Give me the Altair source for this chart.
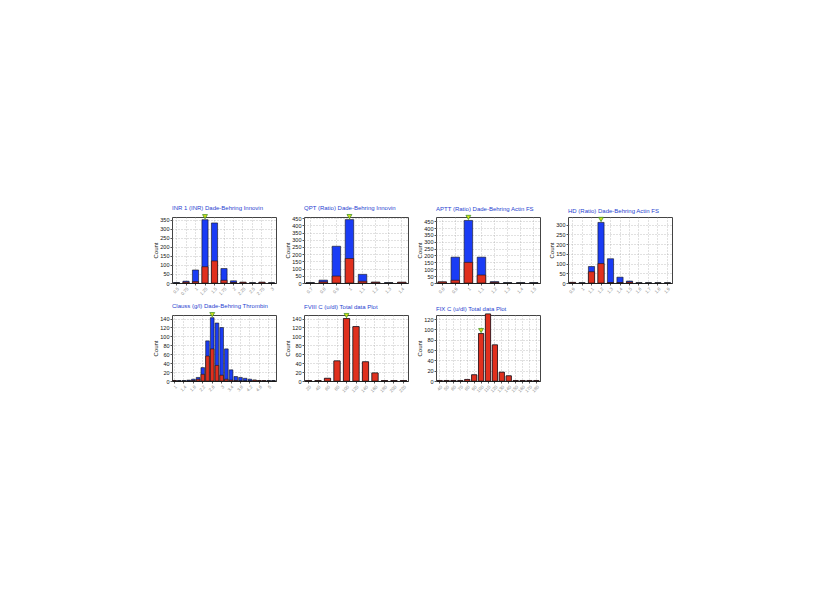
import altair as alt
import pandas as pd

BLUE = "#1a3cf5"
RED = "#e0301e"
TITLE_COLOR = "#1f3fd0"

# Panel 1
inr_title = "INR 1 (INR) Dade-Behring Innovin"
inr_labels = ["0.5", "0.75", "1", "1.25", "1.5", "1.75", "2", "2.25", "2.5", "2.75", "3"]
inr_total = [2, 10, 72, 350, 332, 80, 12, 4, 1, 4, 1]
inr_red = [0, 5, 8, 90, 122, 15, 3, 4, 0, 4, 0]
inr_ticks = [0, 50, 100, 150, 200, 250, 300, 350]
inr_ymax = 365
inr_mark = 3

# Panel 2
qpt_title = "QPT (Ratio) Dade-Behring Innovin"
qpt_labels = ["0.7", "0.8", "0.9", "1", "1.1", "1.2", "1.3", "1.4"]
qpt_total = [2, 20, 255, 440, 60, 6, 2, 5]
qpt_red = [0, 8, 48, 170, 12, 5, 0, 5]
qpt_ticks = [0, 50, 100, 150, 200, 250, 300, 350, 400, 450]
qpt_ymax = 458
qpt_mark = 3

# Panel 3
aptt_title = "APTT (Ratio) Dade-Behring Actin FS"
aptt_labels = ["0.8", "0.9", "1", "1.1", "1.2", "1.3", "1.4", "1.5"]
aptt_total = [8, 188, 455, 188, 10, 2, 2, 2]
aptt_red = [8, 20, 150, 58, 5, 0, 0, 0]
aptt_ticks = [0, 50, 100, 150, 200, 250, 300, 350, 400, 450]
aptt_ymax = 480
aptt_mark = 2

# Panel 4
hd_title = "HD (Ratio) Dade-Behring Actin FS"
hd_labels = ["0.9", "1", "1.1", "1.2", "1.3", "1.4", "1.5", "1.6", "1.7", "1.8", "1.9"]
hd_total = [3, 1, 85, 312, 125, 30, 10, 1, 1, 1, 1]
hd_red = [3, 0, 58, 100, 2, 2, 5, 0, 0, 0, 0]
hd_ticks = [0, 50, 100, 150, 200, 250, 300]
hd_ymax = 340
hd_mark = 3

# Panel 5
cl_title = "Clauss (g/l) Dade-Behring Thrombin"
cl_labels = ["1", "1.2", "1.4", "1.6", "1.8", "2", "2.2", "2.4", "2.6", "2.8", "3",
             "3.2", "3.4", "3.6", "3.8", "4", "4.2", "4.4", "4.6", "4.8", "5", "5.2"]
cl_total = [1, 1, 1, 2, 4, 8, 30, 90, 142, 130, 120, 72, 25, 10, 8, 6, 4, 2, 1, 1, 1, 1]
cl_red = [1, 0, 0, 0, 1, 4, 15, 56, 72, 35, 13, 4, 2, 1, 0, 0, 0, 2, 1, 1, 0, 0]
cl_ticks = [0, 20, 40, 60, 80, 100, 120, 140]
cl_ymax = 148
cl_mark = 8

# Panel 6
f8_title = "FVIII C (u/dl) Total data Plot"
f8_labels = ["20", "40", "60", "80", "100", "120", "140", "160", "180", "200", "220"]
f8_total = [1, 1, 6, 45, 140, 122, 43, 18, 1, 1, 1]
f8_red = [1, 1, 6, 45, 140, 122, 43, 18, 1, 1, 1]
f8_ticks = [0, 20, 40, 60, 80, 100, 120, 140]
f8_ymax = 148
f8_mark = 4

# Panel 7
f9_title = "FIX C (u/dl) Total data Plot"
f9_labels = ["40", "50", "60", "70", "80", "90", "100", "110", "120", "130",
             "140", "150", "160", "170", "180"]
f9_total = [1, 1, 1, 1, 3, 12, 92, 130, 70, 17, 10, 1, 1, 1, 1]
f9_red = [1, 1, 1, 1, 3, 12, 92, 130, 70, 17, 10, 1, 1, 1, 1]
f9_ticks = [0, 20, 40, 60, 80, 100, 120]
f9_ymax = 128
f9_mark = 6

FONT = "Liberation Sans"


def panel(title, labels, total, red, ticks, ymax, mark_idx, pad_inner=0.35, label_step=1):
    df = pd.DataFrame({"cat": labels, "total": total, "red": red})
    xaxis = alt.Axis(labelAngle=315, labelFontSize=4.5, labelColor="#888", values=labels[::label_step],
                     tickSize=2, tickColor="#555", domainColor="#222", grid=True, gridDash=[1, 2],
                     gridColor="#9a9a9a", gridWidth=0.6, labelPadding=1, title=None,
                     labelOverlap=False)
    xs = alt.Scale(paddingInner=pad_inner, paddingOuter=0.15)
    x_enc = alt.X("cat:N", sort=labels, scale=xs, axis=xaxis)
    ys = alt.Scale(domain=[0, ymax], nice=False, zero=True)
    yaxis = alt.Axis(values=ticks, labelFontSize=5.5, labelColor="#111", tickSize=2, tickColor="#555",
                     grid=True, gridDash=[1, 2], gridColor="#9a9a9a", gridWidth=0.6, labelPadding=1,
                     title="Count", titleFontSize=6, titleFontWeight="normal", titleColor="#111",
                     titlePadding=2, minExtent=12, maxExtent=12, domain=False, labelOverlap=False)
    base = alt.Chart(df)
    blue = base.mark_bar(color=BLUE, stroke="#151515", strokeWidth=0.6).encode(
        x=x_enc,
        y=alt.Y("total:Q", scale=ys, axis=yaxis),
    )
    redb = base.mark_bar(color=RED, stroke="#151515", strokeWidth=0.6).encode(
        x=x_enc,
        y=alt.Y("red:Q", scale=ys, axis=yaxis),
    )
    arrow = alt.Chart(df.iloc[[mark_idx]]).mark_point(
        shape="triangle-down", filled=True, fill="#d6e21a", stroke="#2f8a1c", strokeWidth=0.7,
        size=24, yOffset=-3, opacity=1
    ).encode(
        x=x_enc,
        y=alt.Y("total:Q", scale=ys, axis=yaxis),
    )
    return alt.layer(blue, redb, arrow).properties(
        width=104, height=66,
        title=alt.TitleParams(title, anchor="start", frame="group", fontSize=6, color=TITLE_COLOR,
                              font=FONT, fontWeight="normal", offset=2),
    )


row1 = alt.hconcat(
    panel(inr_title, inr_labels, inr_total, inr_red, inr_ticks, inr_ymax, inr_mark),
    panel(qpt_title, qpt_labels, qpt_total, qpt_red, qpt_ticks, qpt_ymax, qpt_mark),
    panel(aptt_title, aptt_labels, aptt_total, aptt_red, aptt_ticks, aptt_ymax, aptt_mark),
    panel(hd_title, hd_labels, hd_total, hd_red, hd_ticks, hd_ymax, hd_mark),
    spacing=6,
)
row2 = alt.hconcat(
    panel(cl_title, cl_labels, cl_total, cl_red, cl_ticks, cl_ymax, cl_mark, pad_inner=0.22, label_step=2),
    panel(f8_title, f8_labels, f8_total, f8_red, f8_ticks, f8_ymax, f8_mark),
    panel(f9_title, f9_labels, f9_total, f9_red, f9_ticks, f9_ymax, f9_mark, pad_inner=0.25),
    spacing=6,
)

chart = alt.vconcat(row1, row2, spacing=6).properties(
    padding={"left": 143, "top": 196, "right": 5, "bottom": 5},
    background="white",
).configure_view(stroke="#444", strokeWidth=1).configure_axis(
    labelFont=FONT, titleFont=FONT
).configure_concat(spacing=6)

chart.save("out.html", embed_options={"renderer": "svg", "actions": False})
